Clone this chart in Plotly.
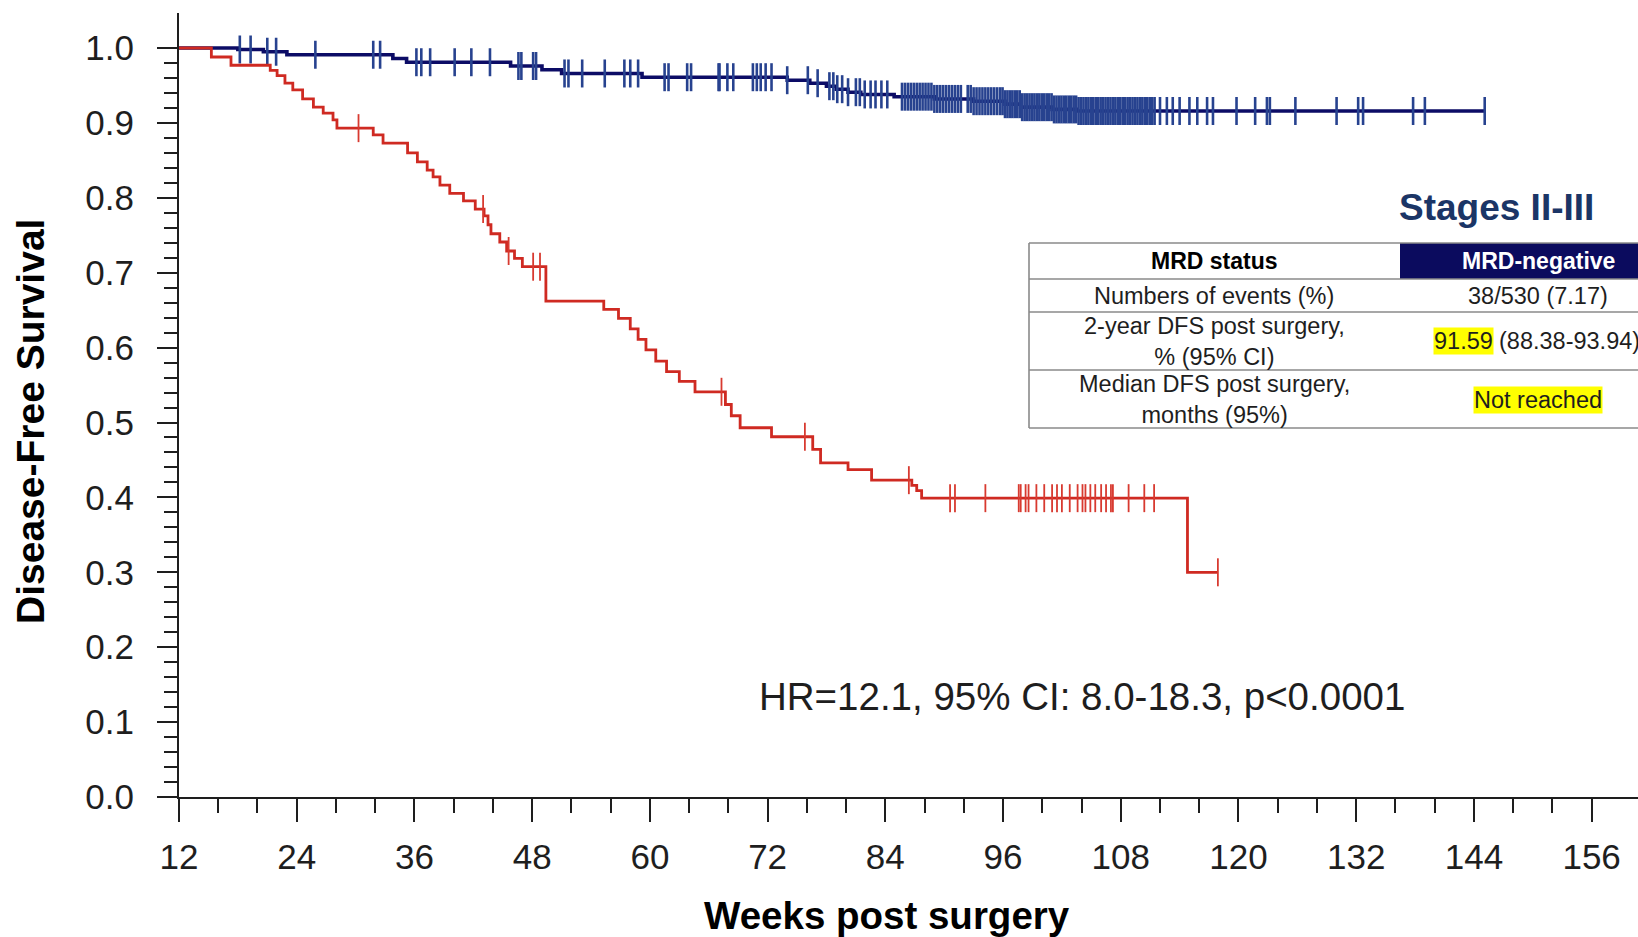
import numpy as np
import plotly.graph_objects as go

FONT = "Liberation Sans, Arial, Helvetica, sans-serif"

# ---- axis ticks -------------------------------------------------------
week_ticks = [12, 24, 36, 48, 60, 72, 84, 96, 108, 120, 132, 144, 156]
week_minor = [w for w in range(12, 157, 4) if w % 12]
surv_ticks = [0.0, 0.1, 0.2, 0.3, 0.4, 0.5, 0.6, 0.7, 0.8, 0.9, 1.0]
surv_minor = [round(v * 0.02, 2) for v in range(0, 51) if v % 5]

# ---- MRD-negative (navy) Kaplan-Meier steps ---------------------------
neg_event_weeks = [18.0, 20.6, 23.0, 33.8, 35.2, 45.8, 49.0, 51.0, 59.2, 74.0,
                   76.3, 78.0, 79.0, 80.2, 81.5, 84.9, 89.0, 93.0, 96.2, 97.8,
                   101.0, 103.5]
neg_surv = [0.998, 0.995, 0.991, 0.986, 0.981, 0.976, 0.971, 0.966, 0.961, 0.957,
            0.953, 0.949, 0.945, 0.941, 0.938, 0.935, 0.932, 0.929, 0.925, 0.921,
            0.918, 0.9159]
neg_last_week = 145.1
neg_censor_weeks = [
    18.2, 19.3, 21.0, 21.9, 25.9, 31.8, 32.5, 36.2, 36.7, 37.6, 40.1, 41.8,
    43.7, 46.6, 46.9, 48.1, 48.4, 51.3, 51.7, 53.1, 55.4, 57.4, 58.0, 58.8,
    61.5, 61.9, 63.8, 64.2, 67.0, 67.1, 67.9, 68.5, 70.5, 70.9, 71.3, 71.8,
    72.4, 74.0, 76.1, 77.1, 78.3, 78.7, 79.1, 79.6, 80.2, 81.0, 81.4, 81.9,
    82.5, 83.0, 83.6, 84.2, 85.7, 86.0, 86.3, 86.6, 86.9, 87.2, 87.5, 87.8,
    88.1, 88.4, 88.7, 89.0, 89.3, 89.6, 89.9, 90.2, 90.5, 90.8, 91.1, 91.4,
    91.7, 92.4, 92.7, 93.0, 93.3, 93.6, 93.9, 94.2, 94.5, 94.8, 95.1, 95.4,
    95.7, 95.95, 96.2, 96.45, 96.7, 96.95, 97.2, 97.45, 97.7, 97.95,
    98.2, 98.45, 98.7, 98.95, 99.2, 99.45, 99.7, 99.95, 100.2, 100.45, 100.7,
    100.95, 101.2, 101.45, 101.7, 101.95, 102.2, 102.45, 102.7, 102.95, 103.2,
    103.45, 103.7, 103.95, 104.2, 104.45, 104.7, 104.95, 105.2, 105.45, 105.7,
    105.95, 106.2, 106.45, 106.7, 106.95, 107.2, 107.45, 107.7, 107.95, 108.2,
    108.45, 108.7, 108.95, 109.2, 109.45, 109.7, 109.95, 110.2, 110.45, 110.7,
    110.95, 111.2, 111.45, 112.0, 112.7, 113.3, 114.0, 115.0, 115.8, 116.8,
    117.4, 119.8, 121.7, 122.9, 123.2, 125.8, 130.0, 132.2, 132.7, 137.8,
    139.0, 145.1]

# ---- MRD-positive (red) Kaplan-Meier steps ----------------------------
pos_event_weeks = [15.3, 17.3, 21.3, 22.0, 22.8, 23.6, 24.6, 25.7, 26.7, 27.7,
                   28.1, 31.8, 32.8, 35.3, 36.3, 37.3, 37.9, 38.6, 39.6, 41.0,
                   42.2, 43.1, 43.5, 43.8, 44.7, 45.4, 46.2, 47.0, 49.4, 55.3,
                   56.8, 58.0, 58.8, 59.6, 60.6, 61.7, 63.0, 64.6, 67.7, 68.3,
                   69.2, 72.4, 76.6, 77.4, 80.2, 82.6, 86.7, 87.2, 87.7, 114.8]
pos_surv = [0.988, 0.977, 0.970, 0.963, 0.953, 0.944, 0.932, 0.921, 0.913, 0.904,
            0.893, 0.884, 0.873, 0.860, 0.848, 0.837, 0.828, 0.817, 0.806, 0.796,
            0.785, 0.776, 0.764, 0.752, 0.741, 0.729, 0.719, 0.708, 0.662, 0.651,
            0.639, 0.625, 0.611, 0.597, 0.582, 0.568, 0.555, 0.541, 0.524, 0.509,
            0.493, 0.481, 0.464, 0.446, 0.437, 0.423, 0.416, 0.409, 0.399, 0.300]
pos_last_week = 117.9
pos_censor_weeks = [30.3, 43.0, 45.6, 48.1, 48.8, 67.3, 75.8, 86.4, 90.6, 91.1,
                    94.2, 97.6, 97.8, 98.3, 98.6, 99.4, 100.2, 101.0, 101.5,
                    102.0, 102.8, 103.6, 104.1, 104.4, 104.9, 105.4, 106.0,
                    106.5, 107.0, 107.2, 108.8, 110.4, 111.4, 117.9]

# ---- summary table text -----------------------------------------------
table_header = ["MRD status", "MRD-negative"]
table_labels = ["Numbers of events (%)",
                "2-year DFS post surgery,<br>% (95% CI)",
                "Median DFS post surgery,<br>months (95%)"]
events_text = "38/530 (7.17)"
dfs2y_value = "91.59"
dfs2y_ci = "(88.38-93.94)"
median_text = "Not reached"
hr_text = "HR=12.1, 95% CI: 8.0-18.3, p<0.0001"
panel_title = "Stages II-III"

NAVY = "#0c0c66"
RED = "#cf2a22"
INK = "#1e1e1e"


def step_curve(event_weeks, surv, last_week):
    xs = [12.0] + list(event_weeks) + [last_week]
    ys = [1.0] + list(surv) + [surv[-1]]
    return xs, ys


def surv_at(event_weeks, surv, weeks):
    ev = np.asarray(event_weeks)
    sv = np.concatenate([[1.0], np.asarray(surv)])
    idx = np.searchsorted(ev, np.asarray(weeks), side="right")
    return sv[idx]


fig = go.Figure()

nx, ny = step_curve(neg_event_weeks, neg_surv, neg_last_week)
px_, py_ = step_curve(pos_event_weeks, pos_surv, pos_last_week)

fig.add_trace(go.Scatter(x=nx, y=ny, mode="lines", line=dict(color=NAVY, width=3.6, shape="hv"),
                         name="MRD-negative", hoverinfo="skip"))
fig.add_trace(go.Scatter(x=neg_censor_weeks, y=surv_at(neg_event_weeks, neg_surv, neg_censor_weeks),
                         mode="markers", name="MRD-negative censored",
                         marker=dict(symbol="line-ns", size=20, line=dict(color="#27428f", width=2.6))))
fig.add_trace(go.Scatter(x=px_, y=py_, mode="lines", line=dict(color=RED, width=2.8, shape="hv"),
                         name="MRD-positive", hoverinfo="skip"))
fig.add_trace(go.Scatter(x=pos_censor_weeks, y=surv_at(pos_event_weeks, pos_surv, pos_censor_weeks),
                         mode="markers", name="MRD-positive censored",
                         marker=dict(symbol="line-ns", size=20, line=dict(color="#d83a30", width=1.8))))

# ---- page geometry (pixels) --------------------------------------------
W, H = 1638, 937
L, R, T, B = 179, 0, 13, 140


def pxx(x):
    return (x - L) / (W - L - R)


def pxy(y):
    return (H - B - y) / (H - B - T)


shapes = []
# header navy cell
shapes.append(dict(type="rect", xref="paper", yref="paper", x0=pxx(1400), x1=pxx(1720),
                   y0=pxy(279), y1=pxy(243), fillcolor="#0b0b5e", line=dict(width=0), layer="above"))
# horizontal rules
for yy in [243, 279, 312, 370, 428]:
    shapes.append(dict(type="line", xref="paper", yref="paper", x0=pxx(1029), x1=pxx(1720),
                       y0=pxy(yy), y1=pxy(yy), line=dict(color="#8a8a8a", width=1.6), layer="above"))
# left rule
shapes.append(dict(type="line", xref="paper", yref="paper", x0=pxx(1029), x1=pxx(1029),
                   y0=pxy(243), y1=pxy(428), line=dict(color="#8a8a8a", width=1.6), layer="above"))

ann = []


def text(x, y, s, size, color=INK, bold=False, xanchor="center", **kw):
    ann.append(dict(x=pxx(x), y=pxy(y), xref="paper", yref="paper", showarrow=False,
                    text=f"<b>{s}</b>" if bold else s, xanchor=xanchor, yanchor="middle",
                    font=dict(family=FONT, size=size, color=color), **kw))


TS = 23
text(1496, 207, panel_title, 37, color="#1b3566", bold=True)
text(1214, 261, table_header[0], TS, color="#000000", bold=True)
text(1538, 261, table_header[1], TS, color="#ffffff", bold=True)
text(1214, 296, table_labels[0], 23.5)
text(1538, 296, events_text, 23.5)
text(1214, 341, table_labels[1], 23.5)
text(1433, 341, dfs2y_value, 23.5, xanchor="left", bgcolor="#ffff00", borderpad=0)
text(1497, 341, dfs2y_ci, 23.5, xanchor="left")
text(1214, 399, table_labels[2], 23.5)
text(1538, 400, median_text, 23.5, bgcolor="#ffff00", borderpad=0)

text(1082, 696, hr_text, 38.5)
text(887, 915, "Weeks post surgery", 38.5, color="#000000", bold=True)
ann.append(dict(x=pxx(31), y=pxy(422), xref="paper", yref="paper", showarrow=False,
                text="<b>Disease-Free Survival</b>", textangle=-90,
                xanchor="center", yanchor="middle",
                font=dict(family=FONT, size=39, color="#000000")))

axis_common = dict(showline=True, linewidth=2, linecolor=INK, ticks="outside",
                   tickwidth=2, tickcolor=INK, showgrid=False, zeroline=False,
                   tickfont=dict(family=FONT, size=35, color=INK))

fig.update_layout(
    width=W, height=H,
    margin=dict(l=L, r=R, t=T, b=B),
    paper_bgcolor="white", plot_bgcolor="white",
    showlegend=False,
    shapes=shapes, annotations=ann,
    xaxis=dict(range=[12, 12 + (W - L - R) / 9.81], tickmode="array", tickvals=week_ticks,
               ticklen=23, ticklabelstandoff=5,
               minor=dict(tickmode="array", tickvals=week_minor, ticklen=14, tickwidth=2,
                          tickcolor=INK, ticks="outside"),
               **axis_common),
    yaxis=dict(range=[0, 1 + 35 / 749], tickmode="array", tickvals=surv_ticks,
               ticktext=[f"{v:.1f}" for v in surv_ticks],
               ticklen=20, ticklabelstandoff=16,
               minor=dict(tickmode="array", tickvals=surv_minor, ticklen=13, tickwidth=2,
                          tickcolor=INK, ticks="outside"),
               **axis_common),
)

fig.write_html("out.html")
